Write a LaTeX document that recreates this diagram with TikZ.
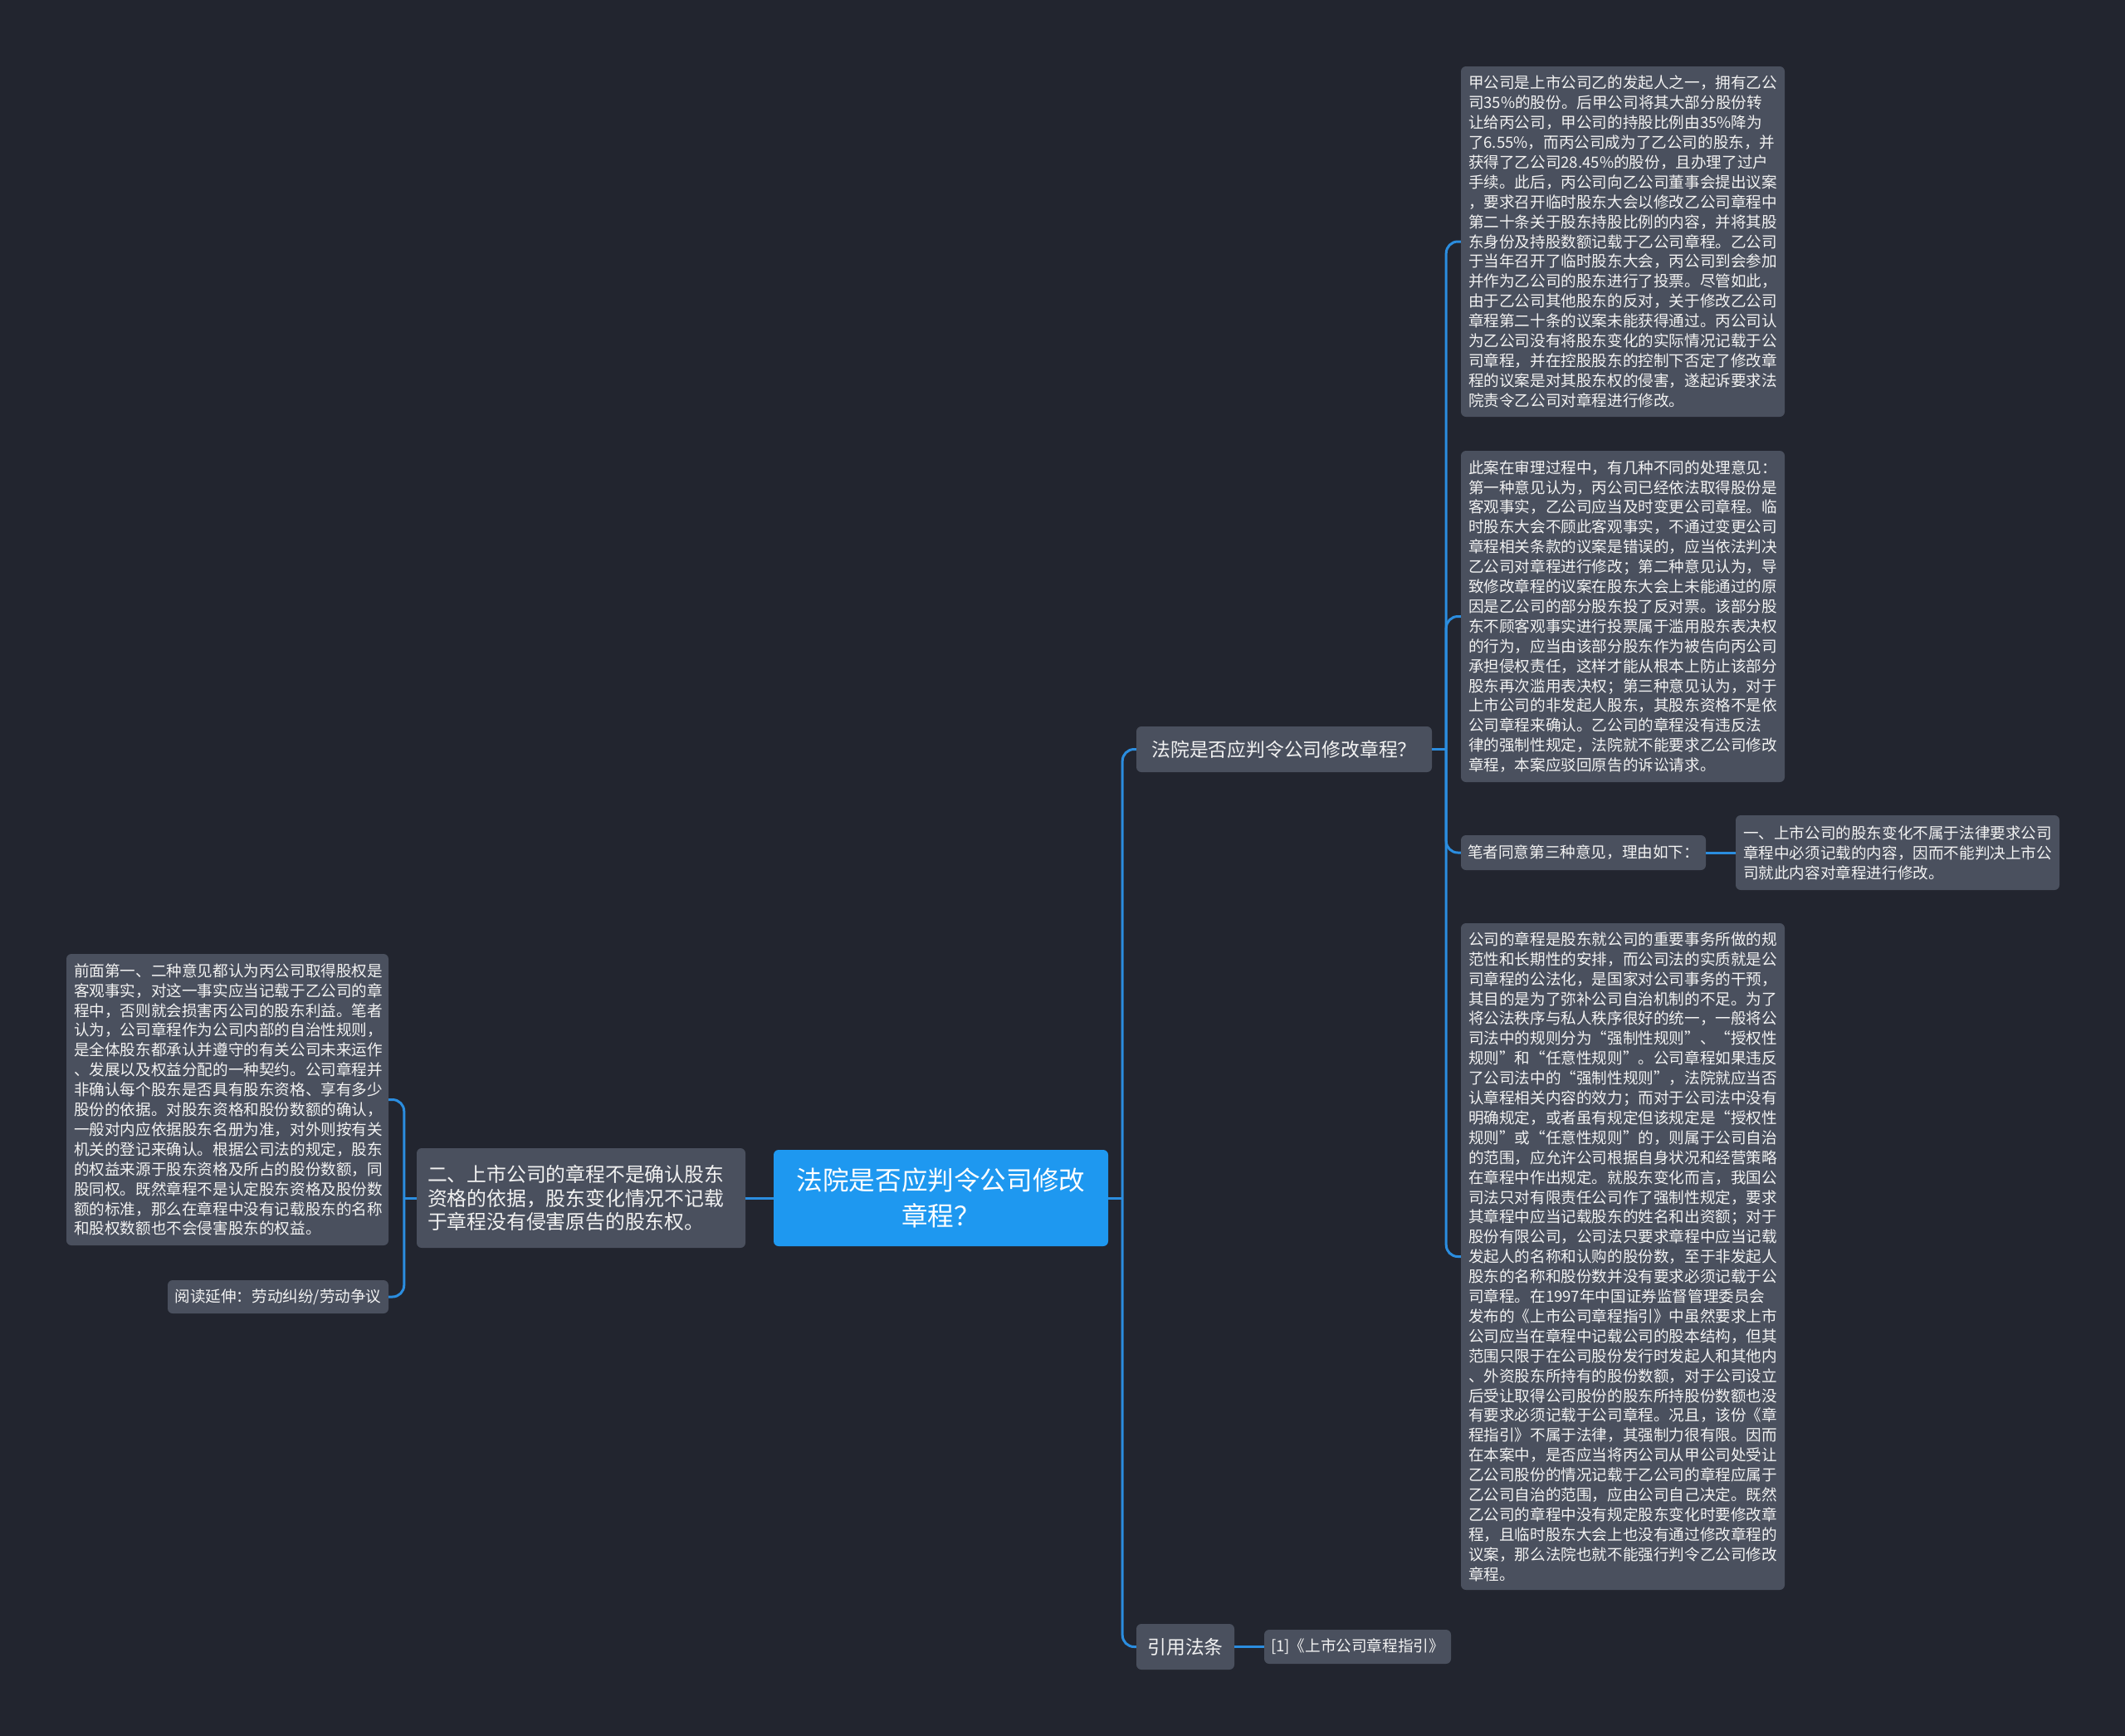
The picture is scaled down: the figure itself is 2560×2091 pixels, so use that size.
\documentclass[tikz,border=0pt]{standalone}
\usepackage{fontspec}
\setmainfont{Noto Sans CJK SC}
\usetikzlibrary{calc}
\definecolor{bgc}{HTML}{22252F}
\definecolor{boxc}{HTML}{4A505E}
\definecolor{mainc}{HTML}{1E98F0}
\definecolor{linec}{HTML}{2B8DDF}
\definecolor{txtc}{HTML}{F2F2F2}
\begin{document}
\begin{tikzpicture}[x=1pt,y=-1pt,
  box/.style={fill=boxc, rounded corners=6pt, text=txtc, inner ysep=0pt},
  body/.style={box, font=\fontsize{18.6pt}{23.9pt}\selectfont, align=left, inner xsep=9pt},
  single/.style={box, font=\fontsize{18.6pt}{23.9pt}\selectfont, inner xsep=0pt},
  title/.style={box, font=\fontsize{22.8pt}{28pt}\selectfont, inner xsep=0pt},
  conn/.style={draw=linec, line width=3pt},
  elbow/.style={conn, rounded corners=14pt}]
\useasboundingbox (0,0) rectangle (2560,2091);
\fill[bgc] (0,0) rectangle (2560,2091);

% centre
\node[box, fill=mainc, text=white, font=\fontsize{31.6pt}{43pt}\selectfont, align=center,
      minimum width=403pt, minimum height=116pt, inner xsep=0pt] (c) at (1133.5,1443)
  {法院是否应判令公司修改\\章程？};

% right branch
\node[title, minimum width=356pt, minimum height=55pt] (t1) at (1547,902.5) {法院是否应判令公司修改章程？};
\node[title, minimum width=118pt, minimum height=55pt] (t3) at (1428,1983.5) {引用法条};

\node[body, text width=372pt, minimum height=422pt] (bA) at (1955,291) {%
甲公司是上市公司乙的发起人之一，拥有乙公\\
司35\%的股份。后甲公司将其大部分股份转\\
让给丙公司，甲公司的持股比例由35\%降为\\
了6.55\%，而丙公司成为了乙公司的股东，并\\
获得了乙公司28.45\%的股份，且办理了过户\\
手续。此后，丙公司向乙公司董事会提出议案\\
，要求召开临时股东大会以修改乙公司章程中\\
第二十条关于股东持股比例的内容，并将其股\\
东身份及持股数额记载于乙公司章程。乙公司\\
于当年召开了临时股东大会，丙公司到会参加\\
并作为乙公司的股东进行了投票。尽管如此，\\
由于乙公司其他股东的反对，关于修改乙公司\\
章程第二十条的议案未能获得通过。丙公司认\\
为乙公司没有将股东变化的实际情况记载于公\\
司章程，并在控股股东的控制下否定了修改章\\
程的议案是对其股东权的侵害，遂起诉要求法\\
院责令乙公司对章程进行修改。};

\node[body, text width=372pt, minimum height=399pt] (bB) at (1955,742.5) {%
此案在审理过程中，有几种不同的处理意见：\\
第一种意见认为，丙公司已经依法取得股份是\\
客观事实，乙公司应当及时变更公司章程。临\\
时股东大会不顾此客观事实，不通过变更公司\\
章程相关条款的议案是错误的，应当依法判决\\
乙公司对章程进行修改；第二种意见认为，导\\
致修改章程的议案在股东大会上未能通过的原\\
因是乙公司的部分股东投了反对票。该部分股\\
东不顾客观事实进行投票属于滥用股东表决权\\
的行为，应当由该部分股东作为被告向丙公司\\
承担侵权责任，这样才能从根本上防止该部分\\
股东再次滥用表决权；第三种意见认为，对于\\
上市公司的非发起人股东，其股东资格不是依\\
*公司章程来确认。乙公司的章程没有违反法\\
律的强制性规定，法院就不能要求乙公司修改\\
章程，本案应驳回原告的诉讼请求。};

\node[single, minimum width=295pt, minimum height=42pt] (bC) at (1907.5,1027) {笔者同意第三种意见，理由如下：};

\node[body, text width=372pt, minimum height=90pt] (bD) at (2286,1027) {%
一、上市公司的股东变化不属于法律要求公司\\
章程中必须记载的内容，因而不能判决上市公\\
司就此内容对章程进行修改。};

\node[body, text width=372pt, minimum height=803pt] (bE) at (1955,1513.5) {%
公司的章程是股东就公司的重要事务所做的规\\
范性和长期性的安排，而公司法的实质就是公\\
司章程的公法化，是国家对公司事务的干预，\\
其目的是为了弥补公司自治机制的不足。为了\\
将公法秩序与私人秩序很好的统一，一般将公\\
司法中的规则分为“强制性规则”、“授权性\\
规则”和“任意性规则”。公司章程如果违反\\
了公司法中的“强制性规则”，法院就应当否\\
认章程相关内容的效力；而对于公司法中没有\\
明确规定，或者虽有规定但该规定是“授权性\\
规则”或“任意性规则”的，则属于公司自治\\
的范围，应允许公司根据自身状况和经营策略\\
在章程中作出规定。就股东变化而言，我国公\\
司法只对有限责任公司作了强制性规定，要求\\
其章程中应当记载股东的姓名和出资额；对于\\
股份有限公司，公司法只要求章程中应当记载\\
发起人的名称和认购的股份数，至于非发起人\\
股东的名称和股份数并没有要求必须记载于公\\
司章程。在1997年中国证券监督管理委员会\\
发布的《上市公司章程指引》中虽然要求上市\\
公司应当在章程中记载公司的股本结构，但其\\
范围只限于在公司股份发行时发起人和其他内\\
、外资股东所持有的股份数额，对于公司设立\\
后受让取得公司股份的股东所持股份数额也没\\
有要求必须记载于公司章程。况且，该份《章\\
程指引》不属于法律，其强制力很有限。因而\\
在本案中，是否应当将丙公司从甲公司处受让\\
乙公司股份的情况记载于乙公司的章程应属于\\
乙公司自治的范围，应由公司自己决定。既然\\
乙公司的章程中没有规定股东变化时要修改章\\
程，且临时股东大会上也没有通过修改章程的\\
议案，那么法院也就不能强行判令乙公司修改\\
章程。};

\node[single, minimum width=225pt, minimum height=41pt] (bF) at (1635.5,1983.5) {[1]《上市公司章程指引》};

% left branch
\node[box, font=\fontsize{23.8pt}{28.5pt}\selectfont, align=left, inner xsep=13pt,
      text width=370pt, minimum height=120pt] (t2) at (700,1443) {%
二、上市公司的章程不是确认股东\\
资格的依据，股东变化情况不记载\\
于章程没有侵害原告的股东权。};

\node[body, text width=370pt, minimum height=351pt] (bL) at (274,1324.5) {%
前面第一、二种意见都认为丙公司取得股权是\\
客观事实，对这一事实应当记载于乙公司的章\\
程中，否则就会损害丙公司的股东利益。笔者\\
认为，公司章程作为公司内部的自治性规则，\\
是全体股东都承认并遵守的有关公司未来运作\\
、发展以及权益分配的一种契约。公司章程并\\
非确认每个股东是否具有股东资格、享有多少\\
股份的依据。对股东资格和股份数额的确认，\\
一般对内应依据股东名册为准，对外则按有关\\
机关的登记来确认。根据公司法的规定，股东\\
的权益来源于股东资格及所占的股份数额，同\\
股同权。既然章程不是认定股东资格及股份数\\
额的标准，那么在章程中没有记载股东的名称\\
和股权数额也不会侵害股东的权益。};

\node[single, minimum width=266pt, minimum height=40pt] (bR) at (335,1562) {阅读延伸：劳动纠纷/劳动争议};

% connectors
\coordinate (s0) at ($(c.east)+(17,0)$);
\coordinate (s1) at ($(t1.east)+(17,0)$);
\coordinate (sL) at ($(t2.west)+(-15,0)$);

\draw[conn] (c.east) -- (s0);
\draw[elbow] (s0) |- (t1.west);
\draw[elbow] (s0) |- (t3.west);

\draw[conn] (t1.east) -- (s1);
\draw[elbow] (s1) |- (bA.west);
\draw[elbow] (s1) |- (bB.west);
\draw[elbow] (s1) |- (bC.west);
\draw[elbow] (s1) |- (bE.west);
\draw[conn] (bC.east) -- (bD.west);
\draw[conn] (t3.east) -- (bF.west);

\draw[conn] (c.west) -- (t2.east);
\draw[conn] (t2.west) -- (sL);
\draw[elbow] (sL) |- (bL.east);
\draw[elbow] (sL) |- (bR.east);
\end{tikzpicture}
\end{document}
